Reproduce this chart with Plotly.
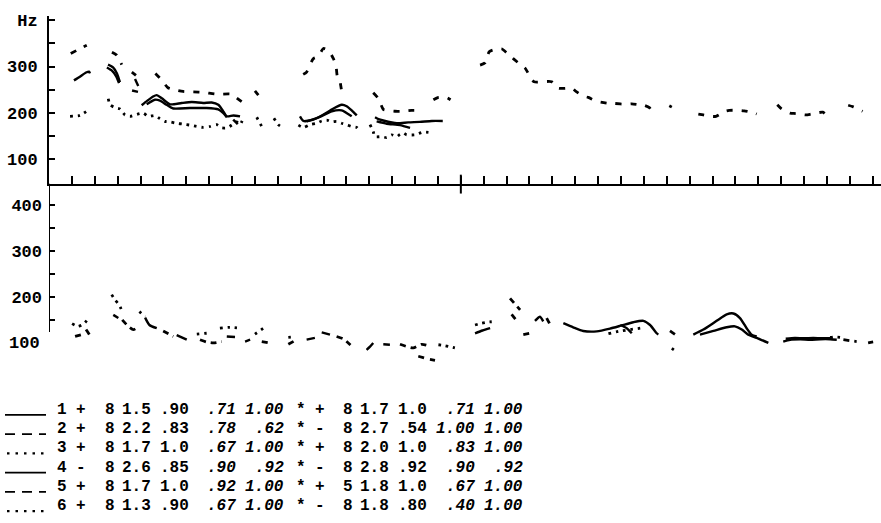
import plotly.graph_objects as go

# ---------------------------------------------------------------------------
# Pitch contours (time in tick units, F0 in Hz); None separates voiced stretches
# ---------------------------------------------------------------------------

# upper panel, speaker 1 (solid) - two renditions
sp1a_t = [1.09, 1.35, 1.62, 1.75, 1.79, None,
          2.58, 2.80, 2.97, 3.10, None,
          3.76, 3.90, None,
          4.05, 4.30, 4.55, 4.71, 4.93, 5.29, 5.80, 6.24, 6.74, 7.11, 7.40, 7.59, 7.77, 8.06, 8.35, None,
          10.97, 11.12, 11.55, 12.00, 12.43, 12.79, 13.01, 13.23, 13.45, None,
          14.25, 14.40, 14.61, 15.20, 15.70, 16.21, 16.73, 17.21]
sp1a_hz = [270, 278, 287, 289, 285, None,
           304, 298, 285, 266, None,
           273, 258, None,
           216, 226, 235, 238, 231, 218, 221, 223, 221, 222, 217, 205, 192, 194, 192, None,
           192, 182, 185, 196, 209, 217, 214, 205, 194, None,
           190, 186, 183, 177, 179, 180, 182, 182]
sp1b_t = [2.53, 2.75, 2.93, 3.06, None,
          3.63, 3.89, None,
          4.27, 4.63, 4.85, 5.14, 5.43, 6.16, 6.89, 7.40, 7.62, 7.77, None,
          8.05, 8.25, None,
          11.26, 11.84, 12.36, 12.79, 13.23, None,
          14.32, 14.76, 15.34, 15.78]
sp1b_hz = [298, 291, 279, 264, None,
           248, 245, None,
           218, 228, 226, 217, 209, 210, 210, 207, 199, 190, None,
           185, 175, None,
           181, 191, 203, 205, 192, None,
           181, 176, 173, 167]

# upper panel, speaker 2 (dashed)
sp2_t = [0.95, 1.25, 1.65, None,
         2.75, 2.95, 3.12, 3.18, None,
         3.62, 3.80, None,
         4.65, 4.92, 5.20, 5.55, 5.86, 6.30, 6.75, 7.33, 7.98, 8.20, 8.42, None,
         9.00, 9.15, None,
         11.11, 11.26, 11.55, 11.77, 11.99, 12.21, 12.43, 12.54, 12.60, 12.72, 12.79, 12.89, None,
         14.17, 14.39, 14.61, 14.76, 15.12, 15.41, 15.85, 16.07, None,
         16.80, 17.02, 17.37, 17.55, None,
         18.84, 19.06, 19.24, 19.49, 19.80, 20.10, 20.51, 20.80, 21.02, 21.20, 21.97, 22.26,
         22.85, 23.03, 23.35, 23.57, 23.91, 24.11, 24.49, 24.69, 25.25, 25.47, 25.80, 26.01,
         26.24, 26.34, None,
         27.11, 27.22, None,
         28.38, 28.60, 28.92, 29.15, 29.55, 29.73, 30.17, 30.38, 30.78, 30.93, None,
         31.83, 32.02, 32.39, 32.65, 33.08, 33.33, 33.82, 33.92, None,
         34.93, 35.13, 35.37, 35.56]
sp2_hz = [328, 336, 346, None,
          331, 325, 310, 304, None,
          288, 281, None,
          285, 271, 254, 249, 246, 245, 244, 240, 240, 232, 224, None,
          247, 238, None,
          283, 288, 317, 322, 339, 335, 317, 303, 279, 267, 248, 238, None,
          243, 231, 207, 205, 203, 203, 205, 205, None,
          228, 233, 233, 228, None,
          303, 308, 332, 337, 338, 325, 308, 297, 279, 267, 267, 253,
          253, 246, 236, 233, 225, 223, 220, 220, 218, 219, 217, 216,
          211, 204, None,
          215, 212, None,
          197, 195, 192, 192, 203, 205, 205, 204, 200, 197, None,
          217, 208, 199, 198, 195, 197, 201, 197, None,
          216, 213, 208, 203]

# upper panel, speaker 3 (dotted)
sp3_t = [0.92, 1.35, 1.70, None,
         2.59, 2.67, 2.88, 3.10, 3.32, 3.54, 3.76, 4.12, 4.34, 4.63, 4.85, 5.07, 5.29, 5.58,
         5.87, 6.16, 6.46, 6.74, 7.03, 7.33, 7.55, 7.77, 7.99, 8.20, 8.35, 8.49, None,
         9.08, 9.30, None,
         9.83, 10.02, 10.21, None,
         10.90, 11.12, 11.41, 11.70, 11.92, 12.14, 12.36, 12.57, 12.79, 13.01, 13.23, 13.45, 13.62, None,
         14.03, 14.17, 14.24, 14.53, 14.76, 14.98, 15.20, 15.34, 15.49, 15.63, 16.00, 16.36, 16.65]
sp3_hz = [192, 194, 205, None,
          230, 217, 211, 208, 195, 192, 195, 199, 192, 194, 187, 181, 180, 177,
          175, 173, 170, 168, 170, 174, 167, 167, 173, 180, 174, 188, None,
          190, 170, None,
          188, 174, 168, None,
          173, 168, 174, 177, 182, 184, 180, 181, 177, 174, 170, 168, 158, None,
          174, 159, 148, 148, 146, 152, 148, 153, 156, 152, 152, 158, 157]

# lower panel, speaker 4 (solid)
sp4_t = [2.81, 3.03, None, 4.20, 4.39, 4.71, None, 5.58, 6.02, None, 7.77, 8.13, None,
         8.57, 8.79, None, 11.26, 11.62, None, 11.92, 12.28, None, 13.88, 14.03, 14.17, None,
         14.61, 14.90, None, 18.62, 18.95, 19.28, None, 21.24, 21.46, 21.60, None,
         22.48, 22.91, 23.35, 23.94, 24.52, 25.03, 25.54, 25.98, 26.27, 26.56, 26.63, None,
         24.97, 25.25, 25.47, None,
         28.16, 28.60, 29.18, 29.62, 29.91, 30.20, 30.49, 30.71, 30.93, None,
         28.45, 29.04, 29.62, 29.98, 30.28, 30.56, 30.93, 31.44, None,
         32.09, 32.39, 32.83, 33.26, 33.70, 34.14, 34.43, None,
         32.20, 32.60, 33.00, 33.40, 33.80, 34.25]
sp4_hz = [162, 155, None, 156, 140, 133, None, 118, 108, None, 115, 114, None,
          104, 108, None, 108, 112, None, 124, 119, None, 86, 93, 101, None,
          98, 97, None, 122, 128, 133, None, 149, 158, 148, None,
          144, 135, 127, 126, 132, 139, 146, 149, 140, 122, 119, None,
          140, 133, 122, None,
          119, 130, 149, 163, 165, 155, 133, 119, 115, None,
          119, 127, 135, 137, 130, 119, 112, 101, None,
          104, 108, 109, 108, 109, 109, 108, None,
          110, 112, 111, 112, 111, 112]

# lower panel, speaker 5 (dashed)
sp5_t = [1.14, 1.44, None, 1.62, 1.79, None, 3.20, 3.47, 3.69, 3.95, None, 4.99, 5.43, None,
         6.60, 6.89, 7.18, 7.55, None, 9.30, 9.66, None, 10.46, 10.82, None,
         12.57, 12.86, 13.01, 13.31, None, 15.34, 15.92, 16.29, 16.58, None,
         16.14, 16.43, None, 16.65, 16.87, None, 20.15, 20.59, None, 20.22, 20.46, None,
         20.73, 21.02, None, 21.75, 21.90, None, 27.14, 27.50, None, 34.72, 35.30, None,
         35.80, 36.02]
sp5_hz = [115, 119, None, 130, 117, None, 151, 137, 130, 137, None, 127, 115, None,
          108, 103, 101, 104, None, 104, 101, None, 98, 108, None,
          115, 110, 104, 90, None, 98, 90, 98, 95, None,
          72, 68, None, 65, 63, None, 198, 173, None, 163, 148, None,
          119, 122, None, 155, 141, None, 127, 115, None, 108, 104, None,
          101, 103]

# lower panel, speaker 6 (dotted)
sp6_t = [1.01, 1.27, 1.53, 1.75, None, 2.74, 2.88, 3.06, 3.19, None, 3.95, 4.20, None,
         6.46, 6.89, None, 7.47, 7.91, 8.35, None, 9.00, 9.37, None, 10.46, 10.68, None,
         17.02, 17.31, 17.74, None, 18.62, 18.91, 19.13, 19.35, None,
         24.45, 24.89, 25.84, None, 27.22, 27.46, None, 34.14, 34.36, 34.58]
sp6_hz = [143, 137, 143, 156, None, 206, 195, 184, 171, None, 169, 158, None,
          120, 122, None, 133, 135, 133, None, 120, 133, None, 113, 114, None,
          97, 95, 90, None, 140, 144, 146, 147, None,
          121, 126, 133, None, 89, 81, None, 113, 114, 113]

# axis ticks and labels
time_ticks = list(range(0, 37))
utterance_boundary = 18
top_hz_ticks = [100, 150, 200, 250, 300, 350, 400]
top_hz_text = ["100", "", "200", "", "300", "", "Hz"]
bottom_hz_ticks = [150, 200, 250, 300, 350, 400]
bottom_hz_text = ["", "200", "", "300", "", "400"]
bottom_low_label = "100"

# key table: one entry per speaker
speaker_no = ["1", "2", "3", "4", "5", "6"]
sign_a = ["+", "+", "+", "-", "+", "+"]
count_a = ["8", "8", "8", "8", "8", "8"]
val_a1 = ["1.5", "2.2", "1.7", "2.6", "1.7", "1.3"]
val_a2 = [".90", ".83", "1.0", ".85", "1.0", ".90"]
val_a3 = [".71", ".78", ".67", ".90", ".92", ".67"]
val_a4 = ["1.00", ".62", "1.00", ".92", "1.00", "1.00"]
star = ["*", "*", "*", "*", "*", "*"]
sign_b = ["+", "-", "+", "-", "+", "-"]
count_b = ["8", "8", "8", "8", "5", "8"]
val_b1 = ["1.7", "2.7", "2.0", "2.8", "1.8", "1.8"]
val_b2 = ["1.0", ".54", "1.0", ".92", "1.0", ".80"]
val_b3 = [".71", "1.00", ".83", ".90", ".67", ".40"]
val_b4 = ["1.00", "1.00", "1.00", ".92", "1.00", "1.00"]
key_styles = ["solid", "dash", "dot", "solid", "dash", "dot"]

# ---------------------------------------------------------------------------
# Page geometry (pixels of the 881 x 523 page)
# ---------------------------------------------------------------------------
W, H = 881, 523
AXIS_X = 49
STEP = 22.88


def fx(px):
    return px / W


def fy(py):
    return 1 - py / H


INK = "black"
MONO = "Liberation Mono"

fig = go.Figure()

DASH_TOP = "6px,9px"
DOT = "2.5px,5px"
DASH_BOT = "6px,5px"

contours = [
    (sp1a_t, sp1a_hz, "y", dict(width=2.4)),
    (sp1b_t, sp1b_hz, "y", dict(width=2.4)),
    (sp2_t, sp2_hz, "y", dict(width=2.8, dash=DASH_TOP)),
    (sp3_t, sp3_hz, "y", dict(width=2.8, dash=DOT)),
    (sp4_t, sp4_hz, "y2", dict(width=2.4)),
    (sp5_t, sp5_hz, "y2", dict(width=2.8, dash=DASH_BOT)),
    (sp6_t, sp6_hz, "y2", dict(width=2.8, dash=DOT)),
]
for t, hz, yax, style in contours:
    fig.add_trace(go.Scatter(
        x=t, y=hz, xaxis="x", yaxis=yax, mode="lines",
        line=dict(color=INK, shape="spline", smoothing=0.6, **style),
        connectgaps=False, hoverinfo="skip", showlegend=False,
    ))

tick_font = dict(family=MONO, size=17, color=INK, weight="bold")

fig.update_layout(
    width=W, height=H,
    margin=dict(l=0, r=0, t=0, b=0),
    paper_bgcolor="white", plot_bgcolor="white",
    showlegend=False,
    xaxis=dict(
        domain=[fx(AXIS_X), 1], range=[0, (W - AXIS_X) / STEP], anchor="y",
        showline=True, linecolor=INK, linewidth=2,
        ticks="inside", ticklen=8, tickwidth=2, tickcolor=INK,
        tickvals=time_ticks, showticklabels=False,
        showgrid=False, zeroline=False,
    ),
    yaxis=dict(
        domain=[fy(181), fy(12)], range=[46.2, 409.7], anchor="x",
        showline=True, linecolor=INK, linewidth=2,
        ticks="inside", ticklen=6, tickwidth=2, tickcolor=INK,
        tickvals=top_hz_ticks, ticktext=top_hz_text, tickfont=tick_font,
        ticklabelstandoff=6,
        showgrid=False, zeroline=False,
    ),
    yaxis2=dict(
        domain=[fy(362), fy(181)], range=[56.8, 447.5], anchor="x",
        showline=False,
        ticks="inside", ticklen=6, tickwidth=2, tickcolor=INK,
        tickvals=bottom_hz_ticks, ticktext=bottom_hz_text, tickfont=tick_font,
        ticklabelstandoff=6,
        showgrid=False, zeroline=False,
    ),
)

shapes = [
    # lower panel's frequency axis stops short of its lowest label
    dict(type="line", xref="x", yref="y2", x0=0, x1=0, y0=447.5, y1=125,
         line=dict(color=INK, width=2)),
    # boundary between the two utterances
    dict(type="line", xref="x", yref="paper", x0=utterance_boundary, x1=utterance_boundary,
         y0=fy(191), y1=fy(172), line=dict(color=INK, width=2)),
]

annotations = [
    dict(x=fx(42), y=100, xref="paper", yref="y2", text=bottom_low_label,
         showarrow=False, xanchor="right", yanchor="middle", font=tick_font),
]

# key table laid out on a fixed character grid
ROW0, ROW_STEP = 409, 19.4
GRID_X0, PITCH = 57, 9.55


def col(idx):
    return GRID_X0 + idx * PITCH


upright = dict(family=MONO, size=16, color=INK, weight="bold")
slanted = dict(family=MONO, size=16, color=INK, style="italic", weight="bold")
columns = [
    (speaker_no, col(0.5), "center", upright),
    (sign_a, col(2.5), "center", upright),
    (count_a, col(5.5), "center", upright),
    (val_a1, col(10), "right", upright),
    (val_a2, col(14), "right", upright),
    (val_a3, col(19), "right", slanted),
    (val_a4, col(24), "right", slanted),
    (star, col(25.5), "center", upright),
    (sign_b, col(27.5), "center", upright),
    (count_b, col(30.5), "center", upright),
    (val_b1, col(35), "right", upright),
    (val_b2, col(39), "right", upright),
    (val_b3, col(44), "right", slanted),
    (val_b4, col(49), "right", slanted),
]
key_dash = {"solid": "solid", "dash": "10px,7px", "dot": "2.5px,6px"}
for i in range(len(speaker_no)):
    yc = ROW0 + i * ROW_STEP
    for values, xpos, anchor, font in columns:
        annotations.append(dict(
            x=fx(xpos), y=fy(yc), xref="paper", yref="paper", text=values[i],
            showarrow=False, xanchor=anchor, yanchor="middle", font=font,
        ))
    style = key_styles[i]
    shapes.append(dict(
        type="line", xref="paper", yref="paper",
        x0=fx(5 if style != "dot" else 7), x1=fx(46), y0=fy(yc + 5), y1=fy(yc + 5),
        line=dict(color=INK, width=1.8 if style != "dot" else 2.4, dash=key_dash[style]),
    ))

fig.update_layout(shapes=shapes, annotations=annotations)

fig.write_html("out.html")
